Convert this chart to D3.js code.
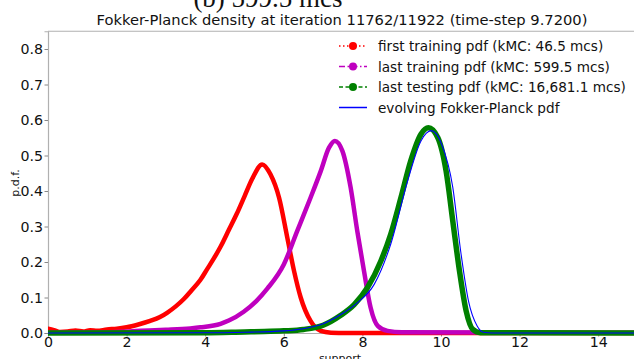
<!DOCTYPE html>
<html>
<head>
<meta charset="utf-8">
<script src="https://cdn.jsdelivr.net/npm/d3@7"></script>
<style>
  html, body { margin: 0; padding: 0; background: #fff; overflow: hidden; }
  svg { display: block; font-family: "DejaVu Sans", sans-serif; }
</style>
</head>
<body>
<svg id="chart" width="634" height="359"></svg>
<script>
// Density curves over the support (x) with their p.d.f. values (y)
const firstTrainX = [0, 0.15, 0.3, 0.5, 0.7, 0.9, 1.07, 1.25, 1.5, 1.75, 2.0, 2.3, 2.6, 2.85, 3.03, 3.25, 3.45, 3.65, 3.88, 4.05, 4.22, 4.4, 4.6, 4.8, 5.0, 5.2, 5.45, 5.66, 5.88, 6.09, 6.26, 6.43, 6.68, 6.94, 7.2, 7.6, 15.2];
const firstTrainY = [0.012, 0.008, 0.003, 0.004, 0.007, 0.004, 0.008, 0.006, 0.01, 0.012, 0.016, 0.024, 0.034, 0.045, 0.057, 0.075, 0.095, 0.12, 0.15, 0.18, 0.21, 0.245, 0.29, 0.335, 0.385, 0.435, 0.475, 0.447, 0.381, 0.268, 0.175, 0.1, 0.034, 0.006, 0.001, 0, 0];

const lastTrainX = [0, 1.5, 2.35, 3.0, 3.62, 3.88, 4.39, 4.6, 4.98, 5.3, 5.58, 6.0, 6.34, 6.68, 6.94, 7.15, 7.3, 7.49, 7.7, 7.87, 8.04, 8.21, 8.39, 8.64, 9.0, 15.2];
const lastTrainY = [0.001, 0.002, 0.006, 0.009, 0.013, 0.016, 0.026, 0.035, 0.06, 0.09, 0.125, 0.193, 0.287, 0.381, 0.456, 0.522, 0.541, 0.513, 0.41, 0.287, 0.175, 0.071, 0.02, 0.006, 0.002, 0.001];

const lastTestX = [0, 4.0, 5.0, 5.5, 6.0, 6.5, 7.0, 7.45, 7.79, 8.13, 8.47, 8.72, 8.98, 9.23, 9.49, 9.68, 9.92, 10.13, 10.3, 10.47, 10.64, 10.81, 11.0, 15.2];
const lastTestY = [0, 0.001, 0.003, 0.004, 0.006, 0.01, 0.022, 0.05, 0.08, 0.128, 0.203, 0.278, 0.381, 0.485, 0.56, 0.578, 0.55, 0.456, 0.315, 0.175, 0.062, 0.01, 0.001, 0];

const fokkerX = [0, 4.0, 5.0, 6.0, 6.5, 7.0, 7.45, 7.87, 8.3, 8.72, 9.15, 9.49, 9.75, 10.02, 10.3, 10.5, 10.7, 10.92, 11.08, 11.3, 15.2];
const fokkerY = [0, 0.0005, 0.002, 0.006, 0.012, 0.026, 0.052, 0.085, 0.137, 0.25, 0.428, 0.541, 0.57, 0.531, 0.41, 0.231, 0.09, 0.02, 0.002, 0, 0];

const seriesLabels = [
  "first training pdf (kMC: 46.5 mcs)",
  "last training pdf (kMC: 599.5 mcs)",
  "last testing pdf (kMC: 16,681.1 mcs)",
  "evolving Fokker-Planck pdf"
];
const xTicks = [0, 2, 4, 6, 8, 10, 12, 14];
const yTicks = [0.0, 0.1, 0.2, 0.3, 0.4, 0.5, 0.6, 0.7, 0.8];

const svg = d3.select("#chart");
const x = d3.scaleLinear().domain([0, 15.2]).range([48, 48 + 15.2 * 39.3]);
const y = d3.scaleLinear().domain([0, 0.85]).range([333, 31.25]);

// Caption above the title (runs off the top of the canvas)
svg.append("text").attr("x", 268).attr("y", 7).attr("text-anchor", "middle")
  .attr("font-family", "'Liberation Serif', serif").attr("font-size", 27)
  .attr("fill", "#111").text("(b) 599.5 mcs");

svg.append("text").attr("x", 342).attr("y", 25).attr("text-anchor", "middle")
  .attr("font-size", 14.7).attr("fill", "#111")
  .text("Fokker-Planck density at iteration 11762/11922 (time-step 9.7200)");

// Axes
const xAxis = d3.axisBottom(x).tickValues(xTicks).tickFormat(d3.format("d")).tickSize(3.5).tickPadding(0.5);
const yAxis = d3.axisLeft(y).tickValues(yTicks).tickFormat(d3.format(".1f")).tickSize(3.5).tickPadding(1.5);

const gx = svg.append("g").attr("transform", `translate(0,${y(0)})`).call(xAxis);
const gy = svg.append("g").attr("transform", `translate(${x(0)},0)`).call(yAxis);
[gx, gy].forEach(g => {
  g.select(".domain").attr("stroke", "#b0b0b0").attr("stroke-width", 1.2);
  g.selectAll(".tick line").attr("stroke", "#888");
  g.selectAll(".tick text").attr("font-size", 14.2).attr("fill", "#111")
    .attr("font-family", "'DejaVu Sans', sans-serif");
});

// Top spine
svg.append("line").attr("x1", x(0)).attr("x2", 634).attr("y1", y(0.85)).attr("y2", y(0.85))
  .attr("stroke", "#b0b0b0").attr("stroke-width", 1.2);

// Axis titles
svg.append("text").attr("x", 340).attr("y", 362).attr("text-anchor", "middle")
  .attr("font-size", 11).attr("fill", "#111").text("support");
svg.append("text").attr("transform", "translate(19,183) rotate(-90)").attr("text-anchor", "middle")
  .attr("font-size", 11).attr("fill", "#111").text("p.d.f.");

// Curves
const line = d3.line().x(d => x(d[0])).y(d => y(d[1])).curve(d3.curveMonotoneX);
const series = [
  { xs: firstTrainX, ys: firstTrainY, color: "#ff0000", width: 4.5 },
  { xs: lastTrainX, ys: lastTrainY, color: "#bf00bf", width: 4.5 },
  { xs: lastTestX, ys: lastTestY, color: "#008000", width: 5.5 },
  { xs: fokkerX, ys: fokkerY, color: "#0000ff", width: 1.1 }
];
const plot = svg.append("g");
plot.append("clipPath").attr("id", "clip").append("rect")
  .attr("x", x(0)).attr("y", y(0.85)).attr("width", 634 - x(0)).attr("height", y(0) - y(0.85) + 3);
series.forEach(s => {
  plot.append("path").attr("clip-path", "url(#clip)")
    .datum(s.xs.map((v, i) => [v, s.ys[i]]))
    .attr("d", line).attr("fill", "none")
    .attr("stroke", s.color).attr("stroke-width", s.width)
    .attr("stroke-linejoin", "round").attr("stroke-linecap", "round");
});

// Legend
const dashes = ["1.5,2.5", "6,2.5,1.5,2.5", "4,2.5", null];
const legend = svg.append("g");
seriesLabels.forEach((lab, i) => {
  const yy = 46 + i * 20.5;
  const s = series[i];
  legend.append("line").attr("x1", 339).attr("x2", 367).attr("y1", yy).attr("y2", yy)
    .attr("stroke", s.color).attr("stroke-width", 1.5)
    .attr("stroke-dasharray", dashes[i]);
  if (i < 3) {
    legend.append("circle").attr("cx", 353).attr("cy", yy).attr("r", 4).attr("fill", s.color);
  }
  legend.append("text").attr("x", 378).attr("y", yy + 5).attr("font-size", 13.6)
    .attr("fill", "#111").text(lab);
});
</script>
</body>
</html>
